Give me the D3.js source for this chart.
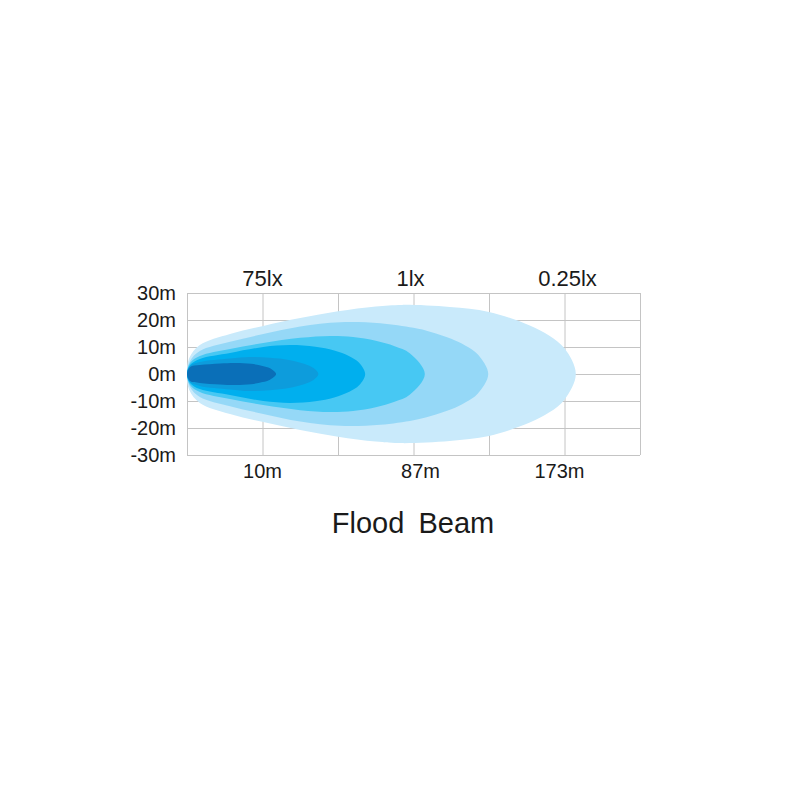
<!DOCTYPE html>
<html>
<head>
<meta charset="utf-8">
<script src="https://cdn.jsdelivr.net/npm/d3@7"></script>
<style>
  body { margin: 0; background: #fff; }
  text { font-family: "Liberation Sans", Arial, sans-serif; fill: #1a1a1a; }
</style>
</head>
<body>
<script>
// grid columns along the beam (0..6), metres across it
var colTicks = [0, 1, 2, 3, 4, 5, 6];
var meterTicks = [30, 20, 10, 0, -10, -20, -30];
var distLabels = [[1, "10m"], [3, "87m"], [5, "173m"]];
var luxLabels = [[1, "75lx"], [3, "1lx"], [5, "0.25lx"]];

// upper edge of each isolux contour: [column, half width in m], outer to inner
var beamEnds = [5.15, 3.99, 3.15, 2.36, 1.74, 1.18];
var beamEdges = [
  [[0.03, 5.9], [0.17, 10.7], [0.57, 14.8], [1.01, 17.8], [1.5, 20.7], [2.0, 23.2], [2.5, 25.0], [2.85, 25.6], [3.48, 24.8], [4.0, 23.0], [4.54, 18.0], [4.8, 14.2], [5.0, 9.5]],
  [[0.04, 4.8], [0.17, 8.5], [0.57, 11.9], [1.01, 14.8], [1.5, 17.6], [2.03, 19.2], [2.56, 18.8], [3.0, 17.1], [3.23, 15.6], [3.5, 13.1], [3.69, 10.5], [3.85, 7.3]],
  [[0.04, 4.1], [0.17, 6.7], [0.57, 9.3], [1.01, 11.5], [1.5, 13.4], [1.9, 14.1], [2.2, 13.7], [2.5, 12.3], [2.75, 10.3], [2.95, 7.7]],
  [[0.04, 3.3], [0.17, 5.6], [0.57, 7.8], [1.01, 10.0], [1.36, 10.7], [1.7, 10.1], [1.95, 8.7], [2.15, 6.6], [2.28, 4.2]],
  [[0.04, 3.0], [0.17, 4.4], [0.57, 5.7], [0.83, 6.3], [1.1, 6.0], [1.35, 5.2], [1.55, 3.8], [1.68, 2.1]],
  [[0.04, 2.6], [0.17, 3.3], [0.44, 3.9], [0.64, 4.1], [0.85, 3.8], [1.0, 3.0], [1.1, 2.1]]
];
var beamColors = ["#c9eafb", "#95d8f7", "#47c8f3", "#00afee", "#0d9cdc", "#0a6fb8"];

var width = 800, height = 800;
var plot = { left: 187, right: 640, top: 293, bottom: 455 };

var svg = d3.select("body").append("svg")
    .attr("width", width)
    .attr("height", height);

var x = d3.scaleLinear().domain([0, 6]).range([plot.left, plot.right]);
var y = d3.scaleLinear().domain([-30, 30]).range([plot.bottom, plot.top]);

// grid
var grid = svg.append("g").attr("stroke", "#c4c4c4").attr("stroke-width", 1);
grid.selectAll("line.v").data(colTicks).enter().append("line")
    .attr("x1", function(d) { return x(d) + 0.5; })
    .attr("x2", function(d) { return x(d) + 0.5; })
    .attr("y1", plot.top)
    .attr("y2", plot.bottom);
grid.selectAll("line.h").data(meterTicks).enter().append("line")
    .attr("x1", plot.left)
    .attr("x2", plot.right)
    .attr("y1", function(d) { return y(d) + 0.5; })
    .attr("y2", function(d) { return y(d) + 0.5; });

// beam contours
var outline = d3.line()
    .x(function(d) { return x(d[0]); })
    .y(function(d) { return y(d[1]); })
    .curve(d3.curveCatmullRomClosed.alpha(0.5));

svg.append("g").selectAll("path").data(beamEdges).enter().append("path")
    .attr("d", function(edge, i) {
        var lower = edge.map(function(p) { return [p[0], -p[1]]; }).reverse();
        return outline([[0, 0]].concat(edge, [[beamEnds[i], 0]], lower));
    })
    .attr("fill", function(d, i) { return beamColors[i]; });

// left labels
svg.append("g").selectAll("text").data(meterTicks).enter().append("text")
    .attr("x", 176)
    .attr("y", function(d) { return y(d) + 7; })
    .attr("text-anchor", "end")
    .style("font-size", "20px")
    .text(function(d) { return d + "m"; });

// distance labels under the grid
var distShift = [0, 7, -5];
svg.append("g").selectAll("text").data(distLabels).enter().append("text")
    .attr("x", function(d, i) { return x(d[0]) + distShift[i]; })
    .attr("y", 478)
    .attr("text-anchor", "middle")
    .style("font-size", "20px")
    .text(function(d) { return d[1]; });

// lux labels above the grid
var luxShift = [0, -3, 3];
svg.append("g").selectAll("text").data(luxLabels).enter().append("text")
    .attr("x", function(d, i) { return x(d[0]) + luxShift[i]; })
    .attr("y", 286)
    .attr("text-anchor", "middle")
    .style("font-size", "22px")
    .text(function(d) { return d[1]; });

svg.append("text")
    .attr("x", 413)
    .attr("y", 533)
    .attr("text-anchor", "middle")
    .style("font-size", "29px")
    .style("word-spacing", "6px")
    .text("Flood Beam");
</script>
</body>
</html>
